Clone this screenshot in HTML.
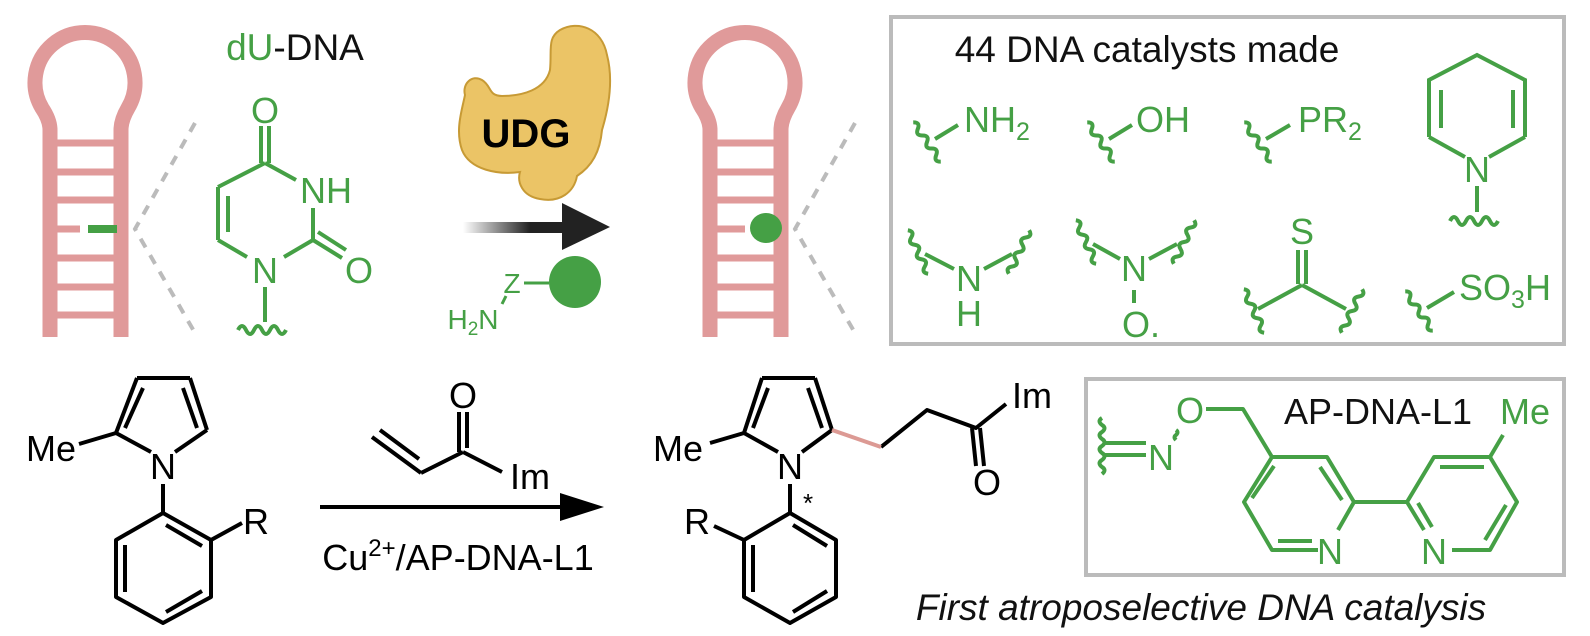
<!DOCTYPE html>
<html><head><meta charset="utf-8"><style>
html,body{margin:0;padding:0;background:#fff;}
svg{display:block;}
text{font-family:"Liberation Sans",Arial,sans-serif;text-anchor:middle;}
</style></head><body>
<svg width="1590" height="636" viewBox="0 0 1590 636" xmlns="http://www.w3.org/2000/svg">
<defs>
<linearGradient id="ag" x1="463" y1="0" x2="530" y2="0" gradientUnits="userSpaceOnUse">
<stop offset="0" stop-color="#222" stop-opacity="0"/><stop offset="1" stop-color="#222"/></linearGradient>
</defs>

<!-- Left hairpin -->
<path d="M50,337 V130 Q50,120 42,108 A50,50 0 1 1 128,108 Q121,120 121,130 V337" fill="none" stroke="#e09a9a" stroke-width="15"/>
<g stroke="#e09a9a" stroke-width="7">
<line x1="57" y1="143" x2="114" y2="143"/><line x1="57" y1="172" x2="114" y2="172"/>
<line x1="57" y1="200" x2="114" y2="200"/><line x1="57" y1="229" x2="80" y2="229"/>
<line x1="57" y1="258" x2="114" y2="258"/><line x1="57" y1="287" x2="114" y2="287"/>
<line x1="57" y1="315" x2="114" y2="315"/>
</g>
<line x1="88" y1="229" x2="117" y2="229" stroke="#45a045" stroke-width="8"/>
<polyline points="195,123 135,229 195,333" fill="none" stroke="#bbb" stroke-width="4" stroke-dasharray="10,9"/>

<!-- dU-DNA -->
<text x="295" y="60" font-size="37"><tspan fill="#45a045">dU</tspan><tspan fill="#111">-DNA</tspan></text>

<!-- Uracil -->
<g stroke="#45a045" stroke-width="4" fill="none">
<line x1="261" y1="126" x2="261" y2="163"/><line x1="269" y1="126" x2="269" y2="163"/>
<line x1="265" y1="163" x2="296" y2="180"/>
<line x1="313" y1="208" x2="313" y2="240"/>
<line x1="313" y1="240" x2="342" y2="258"/><line x1="318" y1="232" x2="346" y2="250"/>
<line x1="313" y1="240" x2="284" y2="257"/>
<line x1="247" y1="257" x2="218" y2="240"/>
<line x1="218" y1="240" x2="218" y2="187"/><line x1="228" y1="232" x2="228" y2="196"/>
<line x1="218" y1="187" x2="265" y2="163"/>
<line x1="265" y1="287" x2="265" y2="322"/>
<path d="M238,330 q4,-8 8,0 q4,8 8,0 q4,-8 8,0 q4,8 8,0 q4,-8 8,0 q4,8 8,0"/>
</g>
<g fill="#45a045" font-size="36">
<text x="265" y="123">O</text>
<text x="326" y="203">NH</text>
<text x="359" y="283">O</text>
<text x="265" y="283">N</text>
</g>

<!-- UDG -->
<path d="M560,30 C578,20 602,28 607,55 C614,82 608,110 602,130 C600,152 592,166 577,176 C574,192 560,203 540,199 C522,196 517,182 520,172 C498,175 470,170 462,150 C455,130 462,110 465,95 C462,84 472,74 482,80 C492,86 488,96 502,96 C522,96 545,90 550,70 C552,50 547,38 560,30 Z" fill="#ebc466" stroke="#c79a35" stroke-width="2"/>
<text x="526" y="147" font-size="40" font-weight="bold" fill="#000">UDG</text>

<!-- arrow -->
<rect x="463" y="222" width="102" height="11" fill="url(#ag)"/>
<polygon points="562,203 610,227 562,250" fill="#222"/>

<!-- H2N-Z-circle -->
<circle cx="575" cy="282" r="26" fill="#45a045"/>
<line x1="524" y1="283" x2="549" y2="283" stroke="#45a045" stroke-width="3"/>
<line x1="506" y1="296" x2="502" y2="304" stroke="#45a045" stroke-width="3"/>
<g fill="#45a045" font-size="28">
<text x="512" y="293">Z</text>
<text x="473" y="329">H<tspan font-size="19" dy="6">2</tspan><tspan dy="-6">N</tspan></text>
</g>

<!-- Right hairpin -->
<g transform="translate(660,0)">
<path d="M50,337 V130 Q50,120 42,108 A50,50 0 1 1 128,108 Q121,120 121,130 V337" fill="none" stroke="#e09a9a" stroke-width="15"/>
<g stroke="#e09a9a" stroke-width="7">
<line x1="57" y1="143" x2="114" y2="143"/><line x1="57" y1="172" x2="114" y2="172"/>
<line x1="57" y1="200" x2="114" y2="200"/><line x1="57" y1="229" x2="85" y2="229"/>
<line x1="57" y1="258" x2="114" y2="258"/><line x1="57" y1="287" x2="114" y2="287"/>
<line x1="57" y1="315" x2="114" y2="315"/>
</g>
</g>
<ellipse cx="766" cy="228" rx="16" ry="15" fill="#45a045"/>
<polyline points="855,123 795,229 855,333" fill="none" stroke="#bbb" stroke-width="4" stroke-dasharray="10,9"/>

<!-- top box -->
<rect x="891" y="17" width="673" height="327" fill="none" stroke="#bbb" stroke-width="4"/>
<text x="1147" y="62" font-size="37" fill="#111">44 DNA catalysts made</text>

<g stroke="#45a045" stroke-width="4" fill="none">
<path transform="translate(927,142) rotate(-35)" d="M0,-24 q6,4 0,8 q-6,4 0,8 q6,4 0,8 q-6,4 0,8 q6,4 0,8 q-6,4 0,8"/>
<line x1="935" y1="139" x2="958" y2="125"/>
<path transform="translate(1101,142) rotate(-35)" d="M0,-24 q6,4 0,8 q-6,4 0,8 q6,4 0,8 q-6,4 0,8 q6,4 0,8 q-6,4 0,8"/>
<line x1="1109" y1="139" x2="1132" y2="125"/>
<path transform="translate(1258,142) rotate(-35)" d="M0,-24 q6,4 0,8 q-6,4 0,8 q6,4 0,8 q-6,4 0,8 q6,4 0,8 q-6,4 0,8"/>
<line x1="1266" y1="139" x2="1290" y2="125"/>
<polyline points="1429,137 1429,80 1477,55 1525,80 1525,137"/>
<line x1="1429" y1="137" x2="1465" y2="157"/><line x1="1525" y1="137" x2="1489" y2="157"/>
<line x1="1441" y1="90" x2="1441" y2="128"/><line x1="1513" y1="90" x2="1513" y2="128"/>
<line x1="1477" y1="186" x2="1477" y2="212"/>
<path d="M1450,221 q4,-8 8,0 q4,8 8,0 q4,-8 8,0 q4,8 8,0 q4,-8 8,0 q4,8 8,0"/>
<path transform="translate(918,252) rotate(-25)" d="M0,-24 q6,4 0,8 q-6,4 0,8 q6,4 0,8 q-6,4 0,8 q6,4 0,8 q-6,4 0,8"/>
<path transform="translate(1019,252) rotate(25)" d="M0,-24 q6,4 0,8 q-6,4 0,8 q6,4 0,8 q-6,4 0,8 q6,4 0,8 q-6,4 0,8"/>
<line x1="925" y1="254" x2="954" y2="269"/><line x1="1012" y1="254" x2="984" y2="269"/>
<path transform="translate(1086,242) rotate(-25)" d="M0,-24 q6,4 0,8 q-6,4 0,8 q6,4 0,8 q-6,4 0,8 q6,4 0,8 q-6,4 0,8"/>
<path transform="translate(1184,242) rotate(25)" d="M0,-24 q6,4 0,8 q-6,4 0,8 q6,4 0,8 q-6,4 0,8 q6,4 0,8 q-6,4 0,8"/>
<line x1="1093" y1="244" x2="1120" y2="259"/><line x1="1177" y1="244" x2="1149" y2="259"/>
<line x1="1134" y1="290" x2="1134" y2="303"/>
<line x1="1298" y1="250" x2="1298" y2="284"/><line x1="1306" y1="250" x2="1306" y2="284"/>
<line x1="1302" y1="285" x2="1258" y2="309"/><line x1="1302" y1="285" x2="1346" y2="309"/>
<path transform="translate(1254,311) rotate(-25)" d="M0,-24 q6,4 0,8 q-6,4 0,8 q6,4 0,8 q-6,4 0,8 q6,4 0,8 q-6,4 0,8"/>
<path transform="translate(1352,311) rotate(25)" d="M0,-24 q6,4 0,8 q-6,4 0,8 q6,4 0,8 q-6,4 0,8 q6,4 0,8 q-6,4 0,8"/>
<path transform="translate(1419,311) rotate(-35)" d="M0,-24 q6,4 0,8 q-6,4 0,8 q6,4 0,8 q-6,4 0,8 q6,4 0,8 q-6,4 0,8"/>
<line x1="1427" y1="308" x2="1454" y2="292"/>
</g>
<g fill="#45a045" font-size="36">
<text x="997" y="132">NH<tspan font-size="25" dy="8">2</tspan></text>
<text x="1163" y="132">OH</text>
<text x="1330" y="132">PR<tspan font-size="25" dy="8">2</tspan></text>
<text x="1477" y="182">N</text>
<text x="969" y="291">N</text>
<text x="969" y="326">H</text>
<text x="1134" y="281">N</text>
<text x="1141" y="337">O.</text>
<text x="1302" y="244">S</text>
<text x="1505" y="300">SO<tspan font-size="25" dy="8">3</tspan><tspan dy="-8">H</tspan></text>
</g>

<!-- Bottom: starting material -->
<g stroke="#000" stroke-width="4" fill="none" stroke-linejoin="round">
<line x1="151" y1="452" x2="116" y2="433"/>
<line x1="116" y1="433" x2="137" y2="378"/><line x1="125" y1="428" x2="143" y2="388"/>
<line x1="137" y1="378" x2="190" y2="378"/>
<line x1="190" y1="378" x2="207" y2="430"/><line x1="183" y1="388" x2="197" y2="428"/>
<line x1="207" y1="430" x2="175" y2="452"/>
<line x1="116" y1="433" x2="79" y2="444"/>
<line x1="163" y1="484" x2="163" y2="513"/>
<polygon points="163,513 211,540 211,597 163,623 116,597 116,540"/>
<line x1="166" y1="525" x2="202" y2="546"/><line x1="202" y1="591" x2="166" y2="612"/><line x1="125" y1="545" x2="125" y2="592"/>
<line x1="211" y1="540" x2="242" y2="523"/>
<line x1="372" y1="437" x2="421" y2="473"/><line x1="380" y1="430" x2="419" y2="459"/>
<line x1="421" y1="473" x2="463" y2="452"/>
<line x1="459" y1="412" x2="459" y2="452"/><line x1="467" y1="412" x2="467" y2="448"/>
<line x1="463" y1="452" x2="502" y2="472"/>
<line x1="320" y1="507" x2="566" y2="507"/>
</g>
<polygon points="560,493 604,507 560,521" fill="#000"/>
<g fill="#000" font-size="36">
<text x="51" y="461">Me</text>
<text x="163" y="479">N</text>
<text x="256" y="534">R</text>
<text x="463" y="408">O</text>
<text x="530" y="489">Im</text>
<text x="458" y="570">Cu<tspan font-size="24" dy="-14">2+</tspan><tspan dy="14">/AP-DNA-L1</tspan></text>
</g>

<!-- Product -->
<g stroke="#000" stroke-width="4" fill="none" stroke-linejoin="round">
<line x1="778" y1="452" x2="744" y2="433"/>
<line x1="744" y1="433" x2="762" y2="378"/><line x1="753" y1="428" x2="768" y2="388"/>
<line x1="762" y1="378" x2="815" y2="378"/>
<line x1="815" y1="378" x2="832" y2="430"/><line x1="808" y1="388" x2="822" y2="428"/>
<line x1="832" y1="430" x2="802" y2="452"/>
<line x1="744" y1="433" x2="710" y2="443"/>
<polyline points="881,447 927,410 976,428 1006,404"/>
<line x1="972" y1="428" x2="976" y2="466"/><line x1="980" y1="428" x2="984" y2="466"/>
<line x1="790" y1="484" x2="790" y2="513"/>
<polygon points="790,513 836,540 836,597 790,623 744,597 744,540"/>
<line x1="793" y1="525" x2="827" y2="546"/><line x1="827" y1="591" x2="793" y2="612"/><line x1="753" y1="545" x2="753" y2="592"/>
<line x1="744" y1="540" x2="714" y2="526"/>
</g>
<line x1="832" y1="430" x2="881" y2="447" stroke="#dc9a94" stroke-width="4"/>
<g fill="#000" font-size="36">
<text x="678" y="461">Me</text>
<text x="790" y="479">N</text>
<text x="808" y="512" font-size="26">*</text>
<text x="697" y="534">R</text>
<text x="987" y="495">O</text>
<text x="1032" y="408">Im</text>
</g>

<!-- AP-DNA-L1 box -->
<rect x="1086" y="379" width="478" height="196" fill="none" stroke="#bbb" stroke-width="4"/>
<g stroke="#45a045" stroke-width="4" fill="none" stroke-linejoin="round">
<path d="M1102,418 q-5,3 0,7 q5,3 0,7 q-5,3 0,7 q5,3 0,7 q-5,3 0,7 q5,3 0,7 q-5,3 0,7 q5,3 0,7"/>
<line x1="1104" y1="443" x2="1146" y2="443"/><line x1="1104" y1="455" x2="1146" y2="455"/>
<path d="M1176,440 q-3,-3 0,-5 q3,-3 0,-5"/>
<polyline points="1206,409 1243,409 1272,457"/>
<polyline points="1318,550 1272,550 1244,502 1272,457 1327,457 1354,502 1338,530"/>
<line x1="1252" y1="498" x2="1274" y2="466"/><line x1="1320" y1="467" x2="1342" y2="500"/><line x1="1278" y1="541" x2="1312" y2="541"/>
<line x1="1354" y1="502" x2="1407" y2="502"/>
<polyline points="1424,530 1407,502 1434,457 1490,457 1517,502 1490,550 1452,550"/>
<line x1="1418" y1="503" x2="1432" y2="527"/><line x1="1440" y1="467" x2="1484" y2="467"/><line x1="1506" y1="505" x2="1485" y2="540"/>
<line x1="1490" y1="457" x2="1503" y2="435"/>
</g>
<g font-size="36" fill="#45a045">
<text x="1161" y="470">N</text>
<text x="1190" y="423">O</text>
<text x="1330" y="564">N</text>
<text x="1434" y="564">N</text>
<text x="1525" y="424">Me</text>
</g>
<text x="1378" y="424" font-size="36" fill="#111">AP-DNA-L1</text>
<text x="1201" y="620" font-size="37" font-style="italic" fill="#111">First atroposelective DNA catalysis</text>
</svg>
</body></html>
